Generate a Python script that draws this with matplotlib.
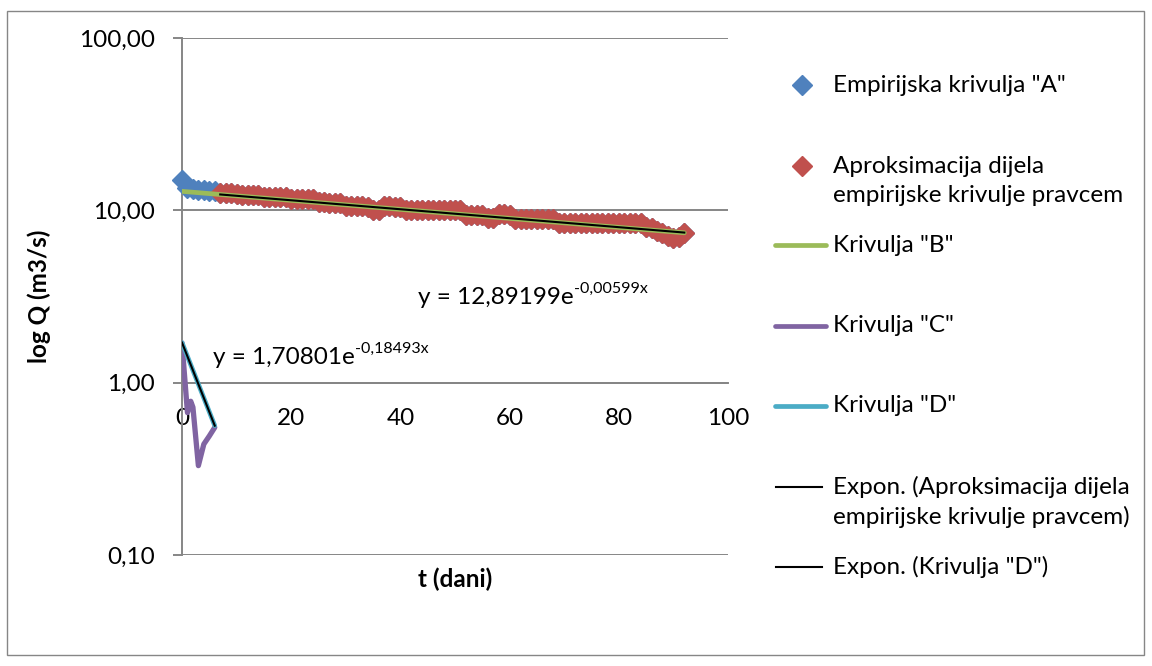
import matplotlib
matplotlib.use("Agg")
import matplotlib.pyplot as plt
import numpy as np
from matplotlib.lines import Line2D
from matplotlib.patches import Rectangle
from matplotlib.ticker import FixedLocator, FuncFormatter, NullLocator

plt.rcParams["font.family"] = ["Lato", "DejaVu Sans"]

# --- data --------------------------------------------------------------
a_days_head = [0, 1, 2, 3, 4, 5, 6]
a_q_head = [14.9, 13.5, 13.3, 13.2, 13.1, 13.0, 12.9]

red_days = list(range(7, 93))
red_q = [
    12.6, 12.6, 12.6, 12.4,
    12.2, 12.2, 12.2, 12.2, 12.0, 12.0, 12.0, 12.0, 12.0,
    11.7, 11.7, 11.6, 11.6, 11.6,
    11.2, 11.2, 11.1, 11.1, 11.1,
    10.6, 10.6, 10.6, 10.6, 10.5,
    10.1, 10.1,
    10.6, 10.6, 10.5, 10.5,
    10.0, 10.0, 10.0, 10.0, 10.0, 10.0, 10.0, 10.0, 10.0, 10.0, 10.0,
    9.4, 9.4, 9.4, 9.4,
    9.0, 9.0,
    9.5, 9.5, 9.4,
    8.9, 8.9, 8.9, 8.9, 8.9, 8.9, 8.9, 8.9,
    8.45, 8.45, 8.45, 8.45, 8.45, 8.45, 8.45, 8.45,
    8.45, 8.45, 8.45, 8.45, 8.45, 8.45, 8.45, 8.45,
    8.0, 7.9,
    7.6, 7.4, 7.1, 6.95, 7.0,
    7.35,
]

# empirical curve "A" = head + the part that is approximated
a_days = a_days_head + red_days
a_q = a_q_head + red_q

b_days = [0, 92]
b_q = [12.89, 7.41]

c_days = [0, 1, 1.6, 2, 3, 4, 5, 6]
c_q = [1.70, 0.67, 0.78, 0.72, 0.33, 0.44, 0.49, 0.55]

d_days = [0, 6]
d_q = [1.708, 0.563]

# exponential trend lines (Excel): coefficient, exponent, x-range
fit_red = (12.89199, -0.00599, 7, 92)
fit_d = (1.70801, -0.18493, 0, 6)

y_ticks = [0.1, 1, 10, 100]
x_ticks = [0, 20, 40, 60, 80, 100]

legend_labels = [
    'Empirijska krivulja "A"',
    "Aproksimacija dijela\nempirijske krivulje pravcem",
    'Krivulja "B"',
    'Krivulja "C"',
    'Krivulja "D"',
    "Expon. (Aproksimacija dijela\nempirijske krivulje pravcem)",
    'Expon. (Krivulja "D")',
]

# --- style --------------------------------------------------------------
W, H = 1152, 666
C_BLUE = "#4F81BD"
C_RED = "#C0504D"
C_GREEN = "#9BBB59"
C_PURPLE = "#8064A2"
C_CYAN = "#4BACC6"
C_GRID = "#868686"
FS = 17.5
MS = 10
LW_THICK = 3.4

fig = plt.figure(figsize=(W / 100, H / 100), dpi=100)
ax = fig.add_axes([182 / W, 1 - 555 / H, (728 - 182) / W, (555 - 38) / H])

ax.set_yscale("log")
ax.set_xlim(0, 100)
ax.set_ylim(0.1, 100)

ax.plot(a_days, a_q, ls="none", marker="D", ms=MS, color=C_BLUE, mec=C_BLUE,
        zorder=3, clip_on=False)
ax.plot(red_days, red_q, ls="none", marker="D", ms=MS, color=C_RED, mec=C_RED,
        zorder=4, clip_on=False)
ax.plot(b_days, b_q, color=C_GREEN, lw=LW_THICK, solid_capstyle="round", zorder=5)
ax.plot(c_days, c_q, color=C_PURPLE, lw=3.8, solid_capstyle="round",
        solid_joinstyle="round", zorder=6)
ax.plot(d_days, d_q, color=C_CYAN, lw=LW_THICK, solid_capstyle="round", zorder=7)

for a0, k, x0, x1 in (fit_red, fit_d):
    xx = np.linspace(x0, x1, 50)
    ax.plot(xx, a0 * np.exp(k * xx), color="black", lw=1.5, zorder=8)

# axes look (Excel style: x axis crosses at 1)
for s in ("top", "right"):
    ax.spines[s].set_visible(False)
ax.spines["left"].set_color(C_GRID)
ax.spines["left"].set_linewidth(1.4)
ax.spines["bottom"].set_position(("data", 1))
ax.spines["bottom"].set_color(C_GRID)
ax.spines["bottom"].set_linewidth(1.4)

ax.yaxis.set_major_locator(FixedLocator(y_ticks))
ax.yaxis.set_minor_locator(NullLocator())
ax.yaxis.set_major_formatter(FuncFormatter(lambda v, p: f"{v:.2f}".replace(".", ",")))
ax.xaxis.set_major_locator(FixedLocator(x_ticks))
ax.xaxis.set_minor_locator(NullLocator())
ax.tick_params(axis="y", direction="out", length=6.5, width=1.4, color=C_GRID,
               pad=13, labelsize=FS)
ax.tick_params(axis="x", length=0, pad=18, labelsize=FS)
ax.grid(axis="y", color=C_GRID, lw=1.4)
ax.set_axisbelow(True)

ax.set_ylabel("log Q (m3/s)", fontsize=FS, fontweight="bold")
ax.yaxis.set_label_coords(-0.24, 0.5)
ax.set_xlabel("t (dani)", fontsize=FS, fontweight="bold")
ax.xaxis.set_label_coords(0.5, -0.024)

# trend-line equations with superscripts
eq_texts = [
    (418 / W, 1 - 297 / H, "y = 12,89199e", "-0,00599x"),
    (213 / W, 1 - 357 / H, "y = 1,70801e", "-0,18493x"),
]
fig.canvas.draw()
renderer = fig.canvas.get_renderer()
for fx, fy, base, sup in eq_texts:
    t = fig.text(fx, fy, base, fontsize=FS, ha="left", va="center")
    bb = t.get_window_extent(renderer)
    fig.text(bb.x1 / W, fy + 8 / H, sup, fontsize=FS * 0.66, ha="left", va="center")

# manual legend, placed like Excel's
leg_y = [85, 166, 245, 326, 406, 487, 567]
handles = [
    ("marker", C_BLUE),
    ("marker", C_RED),
    ("thick", C_GREEN),
    ("thick", C_PURPLE),
    ("thick", C_CYAN),
    ("thin", "black"),
    ("thin", "black"),
]
line_step = 30
for (kind, col), y, lab in zip(handles, leg_y, legend_labels):
    fy = 1 - y / H
    if kind == "marker":
        fig.add_artist(Line2D([802 / W], [fy], ls="none", marker="D", ms=MS,
                              color=col, mec=col, transform=fig.transFigure))
    elif kind == "thick":
        fig.add_artist(Line2D([775 / W, 826 / W], [fy, fy], color=col, lw=LW_THICK,
                              solid_capstyle="round", transform=fig.transFigure))
    else:
        fig.add_artist(Line2D([776 / W, 822 / W], [fy, fy], color=col, lw=1.5,
                              transform=fig.transFigure))
    for i, part in enumerate(lab.split("\n")):
        fig.text(833 / W, 1 - (y + i * line_step) / H, part, fontsize=FS,
                 ha="left", va="center")

# outer chart border
fig.add_artist(Rectangle((7 / W, 1 - 655 / H), (1144 - 7) / W, (655 - 11) / H,
                         fill=False, edgecolor=C_GRID, lw=1.0,
                         transform=fig.transFigure))

fig.savefig("out.png", dpi=100)
